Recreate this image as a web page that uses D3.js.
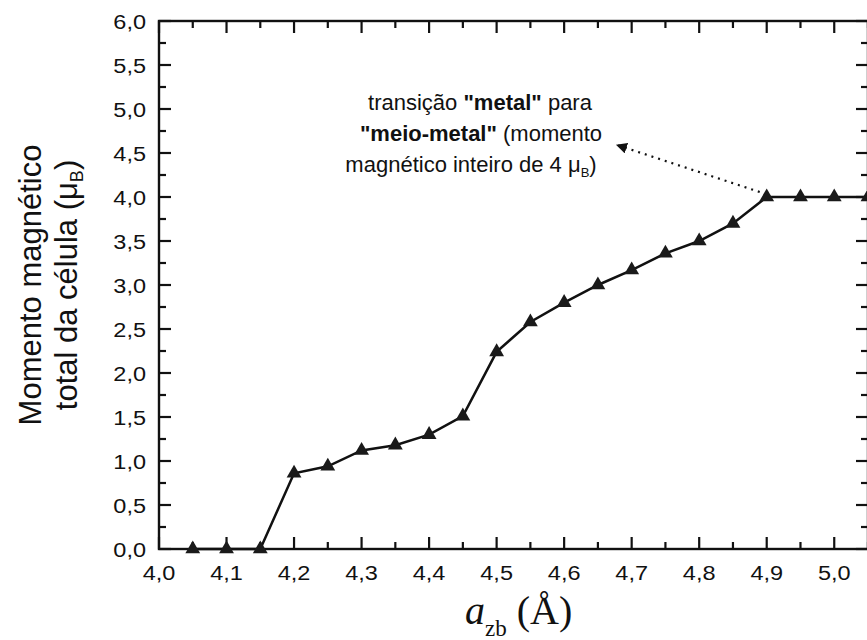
<!DOCTYPE html>
<html>
<head>
<meta charset="utf-8">
<script src="https://cdn.jsdelivr.net/npm/d3@7"></script>
<style>
  body { margin: 0; background: #fff; }
  svg { display: block; }
</style>
</head>
<body>
<div id="chart"></div>
<script>
// lattice parameter a_zb (Å) and total cell moment (μB)
const latticeA = [4.05, 4.10, 4.15, 4.20, 4.25, 4.30, 4.35, 4.40, 4.45, 4.50, 4.55,
                  4.60, 4.65, 4.70, 4.75, 4.80, 4.85, 4.90, 4.95, 5.00, 5.05];
const moment   = [0, 0, 0, 0.86, 0.94, 1.12, 1.18, 1.30, 1.51, 2.24, 2.58,
                  2.80, 3.00, 3.17, 3.36, 3.50, 3.70, 4.00, 4.00, 4.00, 4.00];

const xTicks = [4.0, 4.1, 4.2, 4.3, 4.4, 4.5, 4.6, 4.7, 4.8, 4.9, 5.0];
const xTickLabels = ["4,0", "4,1", "4,2", "4,3", "4,4", "4,5", "4,6", "4,7", "4,8", "4,9", "5,0"];
const yTicks = [0, 0.5, 1, 1.5, 2, 2.5, 3, 3.5, 4, 4.5, 5, 5.5, 6];
const yTickLabels = ["0,0", "0,5", "1,0", "1,5", "2,0", "2,5", "3,0", "3,5", "4,0", "4,5", "5,0", "5,5", "6,0"];

const width = 867, height = 640;
const sans = "'Liberation Sans', Arial, sans-serif";
const serif = "'Liberation Serif', 'Times New Roman', serif";
const ink = "#111";

const x = d3.scaleLinear().domain([4.0, 5.05]).range([159, 868]);
const y = d3.scaleLinear().domain([0, 6]).range([549, 21]);

const svg = d3.select("#chart")
  .append("svg")
  .attr("width", width)
  .attr("height", height)
  .style("background", "#fff");

// frame
const [x0, x1] = x.range();
const [y0, y1] = y.range();
svg.append("rect")
  .attr("x", x0).attr("y", y1)
  .attr("width", x1 - x0).attr("height", y0 - y1)
  .attr("fill", "none")
  .attr("stroke", ink)
  .attr("stroke-width", 2.4);

// ticks, all pointing inward
const gTicks = svg.append("g").attr("stroke", ink).attr("stroke-width", 2.2);
const majorLen = 12, minorLen = 7;

d3.range(0, 6.01, 0.25).forEach(v => {
  const len = Math.abs(v * 2 - Math.round(v * 2)) < 1e-6 ? majorLen : minorLen;
  gTicks.append("line").attr("x1", x0).attr("x2", x0 + len).attr("y1", y(v)).attr("y2", y(v));
  gTicks.append("line").attr("x1", x1).attr("x2", x1 - len).attr("y1", y(v)).attr("y2", y(v));
});
d3.range(4.0, 5.06, 0.05).forEach(v => {
  const len = Math.abs(v * 10 - Math.round(v * 10)) < 1e-6 ? majorLen : minorLen;
  gTicks.append("line").attr("x1", x(v)).attr("x2", x(v)).attr("y1", y0).attr("y2", y0 - len);
  gTicks.append("line").attr("x1", x(v)).attr("x2", x(v)).attr("y1", y1).attr("y2", y1 + len);
});

// tick labels (slightly widened like the scanned original)
svg.append("g")
  .selectAll("text")
  .data(yTicks)
  .join("text")
  .attr("transform", d => `translate(${x0 - 13},${y(d)}) scale(1.12,1)`)
  .attr("dy", "0.36em")
  .attr("text-anchor", "end")
  .attr("font-family", sans)
  .attr("font-size", 21)
  .attr("fill", ink)
  .text((d, i) => yTickLabels[i]);

svg.append("g")
  .selectAll("text")
  .data(xTicks)
  .join("text")
  .attr("transform", d => `translate(${x(d)},${y0 + 31}) scale(1.12,1)`)
  .attr("text-anchor", "middle")
  .attr("font-family", sans)
  .attr("font-size", 21)
  .attr("fill", ink)
  .text((d, i) => xTickLabels[i]);

// data line + triangles
const points = latticeA.map((a, i) => ({ a, m: moment[i] }));

svg.append("path")
  .datum(points)
  .attr("fill", "none")
  .attr("stroke", ink)
  .attr("stroke-width", 2.5)
  .attr("d", d3.line().x(d => x(d.a)).y(d => y(d.m)));

svg.append("g")
  .selectAll("path")
  .data(points)
  .join("path")
  .attr("transform", d => `translate(${x(d.a)},${y(d.m)})`)
  .attr("d", d3.symbol(d3.symbolTriangle, 95))
  .attr("fill", "#1a1a1a");

// y axis title (two lines)
const yTitle = svg.append("g")
  .attr("font-family", sans)
  .attr("font-size", 31)
  .attr("fill", ink)
  .attr("text-anchor", "middle");

yTitle.append("text")
  .attr("transform", `translate(41,${(y0 + y1) / 2}) rotate(-90)`)
  .text("Momento magnético");

const yt2 = yTitle.append("text")
  .attr("transform", `translate(77,${(y0 + y1) / 2}) rotate(-90)`);
yt2.append("tspan").text("total da célula (μ");
yt2.append("tspan").attr("font-size", 18).attr("dy", 6).text("B");
yt2.append("tspan").attr("dy", -6).text(")");

// x axis title
const xt = svg.append("text")
  .attr("x", (x(4.0) + x(5.0)) / 2 + 22)
  .attr("y", 624)
  .attr("text-anchor", "middle")
  .attr("font-family", serif)
  .attr("fill", ink)
  .attr("font-size", 40);
xt.append("tspan").attr("font-style", "italic").text("a");
xt.append("tspan").attr("font-size", 23).attr("dy", 12).text("zb");
xt.append("tspan").attr("dy", -12).text(" (Å)");

// annotation
const note = svg.append("g")
  .attr("font-family", sans)
  .attr("font-size", 22)
  .attr("fill", ink)
  .attr("text-anchor", "middle");

const n1 = note.append("text").attr("x", 480).attr("y", 110);
n1.append("tspan").text("transição ");
n1.append("tspan").attr("font-weight", "bold").text("\"metal\"");
n1.append("tspan").text(" para");

const n2 = note.append("text").attr("x", 481).attr("y", 141);
n2.append("tspan").attr("font-weight", "bold").text("\"meio-metal\"");
n2.append("tspan").text(" (momento");

const n3 = note.append("text").attr("x", 471).attr("y", 172);
n3.append("tspan").text("magnético inteiro de 4 μ");
n3.append("tspan").attr("font-size", 13).attr("dy", 5).text("B");
n3.append("tspan").attr("dy", -5).text(")");

// dotted arrow from the 4.9 Å point
svg.append("defs").append("marker")
  .attr("id", "head")
  .attr("viewBox", "0 0 10 10")
  .attr("refX", 9).attr("refY", 5)
  .attr("markerWidth", 11).attr("markerHeight", 11)
  .attr("markerUnits", "userSpaceOnUse")
  .attr("orient", "auto")
  .append("path")
  .attr("d", "M0,0L10,5L0,10Z")
  .attr("fill", ink);

svg.append("line")
  .attr("x1", x(4.9) - 7).attr("y1", y(4.0) - 5)
  .attr("x2", 617).attr("y2", 145)
  .attr("stroke", ink)
  .attr("stroke-width", 2.2)
  .attr("stroke-dasharray", "2,5")
  .attr("marker-end", "url(#head)");
</script>
</body>
</html>
